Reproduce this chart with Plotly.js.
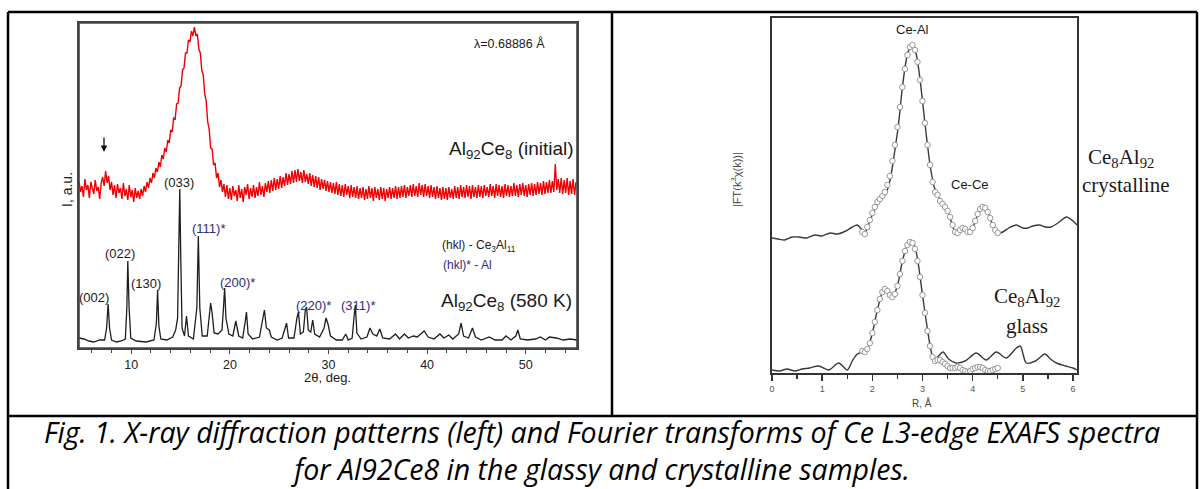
<!DOCTYPE html>
<html><head><meta charset="utf-8">
<script src="https://cdn.plot.ly/plotly-3.0.1.min.js"></script>
<style>html,body{margin:0;padding:0;background:#fff}#plot{width:1203px;height:489px}</style>
</head><body><div id="plot"></div>
<script>
// ---------- Left panel: XRD patterns (2θ, deg) ----------
// initial (amorphous) scan: uniform 2θ grid, first point and step
const xrdInitialStart = 4.7;
const xrdInitialStep = 0.15;
const xrdInitialI = [
167,156,162,151,169,158,163,150,166,160,154,168,157,161,149,165,
171,162,177,165,172,158,
166,153,163,150,164,155,160,149,165,152,159,148,163,151,158,146,160,150,157,149,
159,152,162,156,166,160,170,165,175,170,180,176,186,181,193,189,200,196,208,205,
218,216,230,229,244,245,260,262,278,280,295,295,308,306,317,312,321,312,314,299,
295,278,273,254,247,226,219,200,199,183,185,170,175,161,168,156,164,
151,163,149,160,148,162,152,158,147,163,150,159,146,161,153,164,149,160,151,163,
150,161,152,166,153,162,151,165,156,167,155,168,157,170,158,169,159,172,160,171,
162,175,163,174,164,177,165,178,166,179,167,176,165,178,166,174,164,175,162,173,
161,172,160,171,158,169,159,168,157,167,156,166,155,165,154,166,153,164,152,163,
151,164,153,162,150,163,151,161,150,162,149,160,150,161,148,159,149,162,150,160,
147,161,150,159,148,161,149,160,147,159,150,161,149,160,150,162,149,161,150,162,
151,163,150,161,152,163,151,164,152,162,151,165,153,163,151,164,152,162,150,163,
151,161,149,162,150,160,148,161,149,160,148,161,150,159,149,162,150,161,149,163,
151,161,150,163,151,162,149,163,151,161,150,163,151,162,150,163,152,161,151,164,
152,162,150,164,152,163,151,162,150,164,152,163,151,162,152,165,152,163,151,164,
153,165,152,163,151,164,153,165,152,164,153,166,154,165,153,167,154,166,155,168,
155,167,156,184,158,169,155,170,154,168,155,170,153,167,154,169,153,166];

const xrd580Theta = [4.7,5.2,5.7,6.2,6.8,7.3,7.5,7.65,7.8,8.0,8.5,9.0,9.4,9.55,9.65,9.78,9.95,10.5,11.5,12.3,12.55,12.67,12.8,13.0,13.6,14.2,14.5,14.7,14.85,14.92,15.02,15.15,15.4,15.6,15.8,16.3,16.65,16.8,16.95,17.2,17.7,17.95,18.05,18.2,18.4,18.8,19.2,19.35,19.47,19.6,19.9,20.3,20.6,20.9,21.3,21.55,21.68,21.85,22.3,23.0,23.35,23.5,23.7,24.0,24.2,24.8,25.3,25.6,25.75,25.95,26.5,26.8,26.95,27.15,27.45,27.65,27.78,27.95,28.2,28.4,28.6,29.1,29.55,29.75,29.95,30.2,30.8,31.4,31.75,32.0,32.4,32.6,32.72,32.88,33.3,33.9,34.2,34.5,34.9,35.2,35.5,36.2,36.8,37.2,37.7,38.1,38.6,39.0,39.7,40.1,40.7,41.3,41.7,42.2,42.6,43.2,43.45,43.7,44.2,44.6,44.9,45.5,46.3,46.9,47.6,48.0,48.5,49.0,49.2,49.45,50.2,51.0,51.5,52.0,52.4,53.1,53.8,54.5,55.2];
const xrd580I = [10,9,7,6,8,8,20,44,20,8,6,7,9,40,87,40,10,7,6,8,25,58,22,9,8,11,18,30,120,159,90,20,12,32,12,9,40,112,40,12,12,40,45,35,15,14,18,40,60,30,14,12,27,12,10,26,36,14,9,11,30,38,20,18,11,8,10,22,25,10,10,30,36,14,16,38,41,18,16,28,14,11,20,30,24,12,8,8,14,8,10,32,43,15,9,11,20,14,12,19,10,9,14,9,14,10,12,11,17,11,9,14,10,13,9,14,25,12,10,20,11,8,11,8,8,12,8,12,18,9,8,9,11,8,11,10,8,9,8];

const xrdTicks = [10,20,30,40,50];

// ---------- Right panel: EXAFS Fourier transforms (R, Å) ----------
const crystR   = [0,0.12,0.25,0.4,0.54,0.7,0.85,1.0,1.16,1.3,1.47,1.6,1.7,1.78,1.86,1.95,2.05,2.15,2.25,2.32,2.38,2.45,2.52,2.6,2.68,2.75,2.8,2.86,2.93,3.0,3.08,3.16,3.24,3.3,3.4,3.5,3.6,3.68,3.76,3.82,3.9,3.97,4.05,4.15,4.22,4.3,4.4,4.5,4.6,4.72,4.87,5.0,5.1,5.2,5.33,5.45,5.56,5.7,5.87,6.0,6.08];
const crystFT  = [135,134,133,136,136,135,138,137,140,139,142,146,148,144,141,152,164,172,178,186,200,223,248,286,314,326,328,322,302,272,236,205,185,178,170,162,147,138,144,146,142,141,152,163,166,161,148,140,141,145,148,145,145,147,148,146,146,150,156,152,148];
const glassR   = [0,0.15,0.3,0.46,0.6,0.75,0.93,1.13,1.33,1.5,1.6,1.7,1.8,1.9,2.0,2.1,2.2,2.25,2.32,2.4,2.5,2.6,2.7,2.78,2.85,2.92,3.0,3.08,3.15,3.22,3.3,3.41,3.52,3.67,3.85,4.07,4.27,4.47,4.67,4.87,4.95,5.07,5.25,5.44,5.55,5.67,5.85,6.0,6.08];
const glassFT  = [3,2,4,2,4,5,7,3,10,3,12,19,21,24,40,63,81,84,81,76,87,112,128,131,126,108,78,50,28,14,16,21,14,10,12,20,13,21,15,25,27,10,12,19,14,10,7,5,3];

const fitR       = [1.80,1.85,1.90,1.95,2.00,2.05,2.10,2.15,2.20,2.25,2.30,2.35,2.40,2.45,2.50,2.55,2.60,2.65,2.70,2.75,2.80,2.85,2.90,2.95,3.00,3.05,3.10,3.15,3.20,3.25,3.30,3.35,3.40,3.45,3.50,3.55,3.60,3.65,3.70,3.75,3.80,3.85,3.90,3.95,4.00,4.05,4.10,4.15,4.20,4.25,4.30,4.35,4.40,4.45,4.50];
const crystFit   = [141,139,146,153,160,166,171,174,177,181,188,197,212,228,246,266,286,304,318,326,328,323,311,293,272,250,228,208,191,181,178,172,169,166,162,156,148,141,140,143,145,144,141,141,145,152,159,164,166,165,161,155,148,143,140];
const glassFit   = [22,21,24,30,40,51,63,74,81,84,82,78,76,79,87,99,112,122,128,131,130,124,112,96,78,60,42,27,16,12,13,13,11,9,7,5,5,5,6,5,3,2,1,2,4,5,6,6,5,3,2,2,3,4,5];

const exafsTicks = [0,1,2,3,4,5,6];

// ---------- page geometry helpers ----------
const W = 1203, H = 489;
const px = v => v / W;
const py = v => 1 - v / H;

const data = [
  {y: xrdInitialI, x0: xrdInitialStart, dx: xrdInitialStep, xaxis:'x', yaxis:'y', mode:'lines',
   line:{color:'#f00000', width:1.4}, hoverinfo:'skip'},
  {x: xrd580Theta, y: xrd580I, xaxis:'x', yaxis:'y', mode:'lines',
   line:{color:'#1e1e1e', width:1.3}, hoverinfo:'skip'},
  {x: crystR, y: crystFT, xaxis:'x2', yaxis:'y2', mode:'lines',
   line:{color:'#3a3a3a', width:1.4, shape:'spline', smoothing:0.8}, hoverinfo:'skip'},
  {x: glassR, y: glassFT, xaxis:'x2', yaxis:'y2', mode:'lines',
   line:{color:'#3a3a3a', width:1.4, shape:'spline', smoothing:0.8}, hoverinfo:'skip'},
  {x: fitR, y: crystFit, xaxis:'x2', yaxis:'y2', mode:'markers',
   marker:{symbol:'circle', size:5.5, color:'#ffffff', line:{color:'#9a9a9a', width:1}}, hoverinfo:'skip'},
  {x: fitR, y: glassFit, xaxis:'x2', yaxis:'y2', mode:'markers',
   marker:{symbol:'circle', size:5.5, color:'#ffffff', line:{color:'#9a9a9a', width:1}}, hoverinfo:'skip'}
];

const sans = 'Liberation Sans, Arial, sans-serif';
const serif = 'Liberation Serif, Times New Roman, serif';
const blue = '#2c2c80';
const capFont = 'Open Sans, sans-serif';

function A(text, x, y, size, opts) {
  return Object.assign({text, x: px(x), y: py(y), xref:'paper', yref:'paper',
    xanchor:'center', yanchor:'middle', showarrow:false,
    font:{family:sans, size:size, color:'#1a1a1a'}}, opts || {});
}
const B = (t, x, y, s) => A(t, x, y, s, {font:{family:sans, size:s, color:blue}});
const S = (t, x, y, s) => A(t, x, y, s, {font:{family:serif, size:s, color:'#1a1a1a'}});

const annotations = [
  // left panel texts
  A('λ=0.68886 Å', 509, 43, 12.5),
  A('Al<sub>92</sub>Ce<sub>8</sub> (initial)', 511, 150, 19),
  A('(033)', 179, 182, 13),
  A('(022)', 120, 253, 13),
  A('(130)', 146, 283, 13),
  A('(002)', 94, 297, 13),
  B('(111)*', 208, 228, 13),
  B('(200)*', 237, 282, 13),
  B('(220)*', 313, 305, 13),
  B('(311)*', 358, 305, 13),
  A('(hkl) - Ce<sub>3</sub>Al<sub>11</sub>', 479, 246, 12),
  B('(hkl)* - Al', 467, 265, 12),
  A('Al<sub>92</sub>Ce<sub>8</sub> (580 K)', 506, 302, 19),
  A('2θ, deg.', 327, 377, 13),
  A('I, a.u.', 67, 190, 14, {textangle:-90}),
  {text:'', x: px(104), y: py(152), xref:'paper', yref:'paper', showarrow:true,
   ax:0, ay:-16, arrowhead:2, arrowsize:1, arrowwidth:1.3, arrowcolor:'#111'},
  // right panel texts
  A('Ce-Al', 912, 30, 13),
  A('Ce-Ce', 970, 184, 13),
  S('Ce<sub>8</sub>Al<sub>92</sub>', 1121, 158, 21),
  S('crystalline', 1125, 185, 21),
  S('Ce<sub>8</sub>Al<sub>92</sub>', 1027, 297, 21),
  S('glass', 1027, 326, 21),
  A('R, Å', 922, 403, 10, {font:{family:sans, size:10, color:'#444'}}),
  A('|FT(k<sup>3</sup>χ(k))|', 736, 180, 11, {textangle:-90, font:{family:sans, size:11, color:'#444'}}),
  // caption (two lines)
  A('<i>Fig. 1. X-ray diffraction patterns (left) and Fourier transforms of Ce L3-edge EXAFS spectra<br>for Al92Ce8 in the glassy and crystalline samples.</i>', 602, 450.5, 28.5,
    {font:{family:capFont, size:28.5, color:'#000'}})
];

const lineK = {color:'#000', width:2.5};
const frameL = {color:'#444', width:1.6};
const shapes = [
  {type:'rect', xref:'paper', yref:'paper', x0:px(79), x1:px(577), y0:py(348), y1:py(23), line:frameL, fillcolor:'rgba(0,0,0,0)', layer:'above'},
  {type:'line', xref:'paper', yref:'paper', x0:px(8), x1:px(1197), y0:py(12), y1:py(12), line:lineK},
  {type:'line', xref:'paper', yref:'paper', x0:px(8), x1:px(8), y0:py(12), y1:py(495), line:lineK},
  {type:'line', xref:'paper', yref:'paper', x0:px(1197), x1:px(1197), y0:py(12), y1:py(495), line:lineK},
  {type:'line', xref:'paper', yref:'paper', x0:px(612), x1:px(612), y0:py(12), y1:py(416), line:lineK},
  {type:'line', xref:'paper', yref:'paper', x0:px(8), x1:px(1197), y0:py(416), y1:py(416), line:lineK}
];

const layout = {
  width: W, height: H,
  margin:{l:0, r:0, t:0, b:0},
  paper_bgcolor:'#ffffff', plot_bgcolor:'rgba(0,0,0,0)',
  showlegend:false,
  xaxis:{domain:[px(79), px(577)], range:[4.7, 55.2], anchor:'y',
    showline:true, mirror:true, linecolor:'#444', linewidth:1.6,
    ticks:'outside', ticklen:4, tickwidth:1.2, tickcolor:'#444',
    tickvals: xrdTicks, ticktext: xrdTicks.map(String),
    minor:{dtick:2, tick0:0, ticks:'outside', ticklen:3, tickcolor:'#444', tickwidth:1},
    tickfont:{family:sans, size:12.5, color:'#222'},
    showgrid:false, zeroline:false, fixedrange:true},
  yaxis:{domain:[py(348), py(23)], range:[0, 325], anchor:'x',
    showline:true, mirror:true, linecolor:'#444', linewidth:1.6,
    ticks:'', showticklabels:false, showgrid:false, zeroline:false, fixedrange:true},
  xaxis2:{domain:[px(772), px(1077)], range:[0, 6.08], anchor:'y2',
    showline:true, mirror:true, linecolor:'#333', linewidth:1.8,
    ticks:'outside', ticklen:6, tickwidth:1.5, tickcolor:'#333',
    tickvals: exafsTicks, ticktext: exafsTicks.map(String),
    minor:{dtick:0.5, tick0:0, ticks:'outside', ticklen:4, tickcolor:'#333', tickwidth:1.2},
    tickfont:{family:sans, size:9, color:'#555'},
    showgrid:false, zeroline:false, fixedrange:true},
  yaxis2:{domain:[py(373), py(18)], range:[0, 355], anchor:'x2',
    showline:true, mirror:true, linecolor:'#333', linewidth:1.8,
    ticks:'', showticklabels:false, showgrid:false, zeroline:false, fixedrange:true},
  annotations, shapes
};

Plotly.newPlot('plot', data, layout, {staticPlot:true, displayModeBar:false});
</script></body></html>
